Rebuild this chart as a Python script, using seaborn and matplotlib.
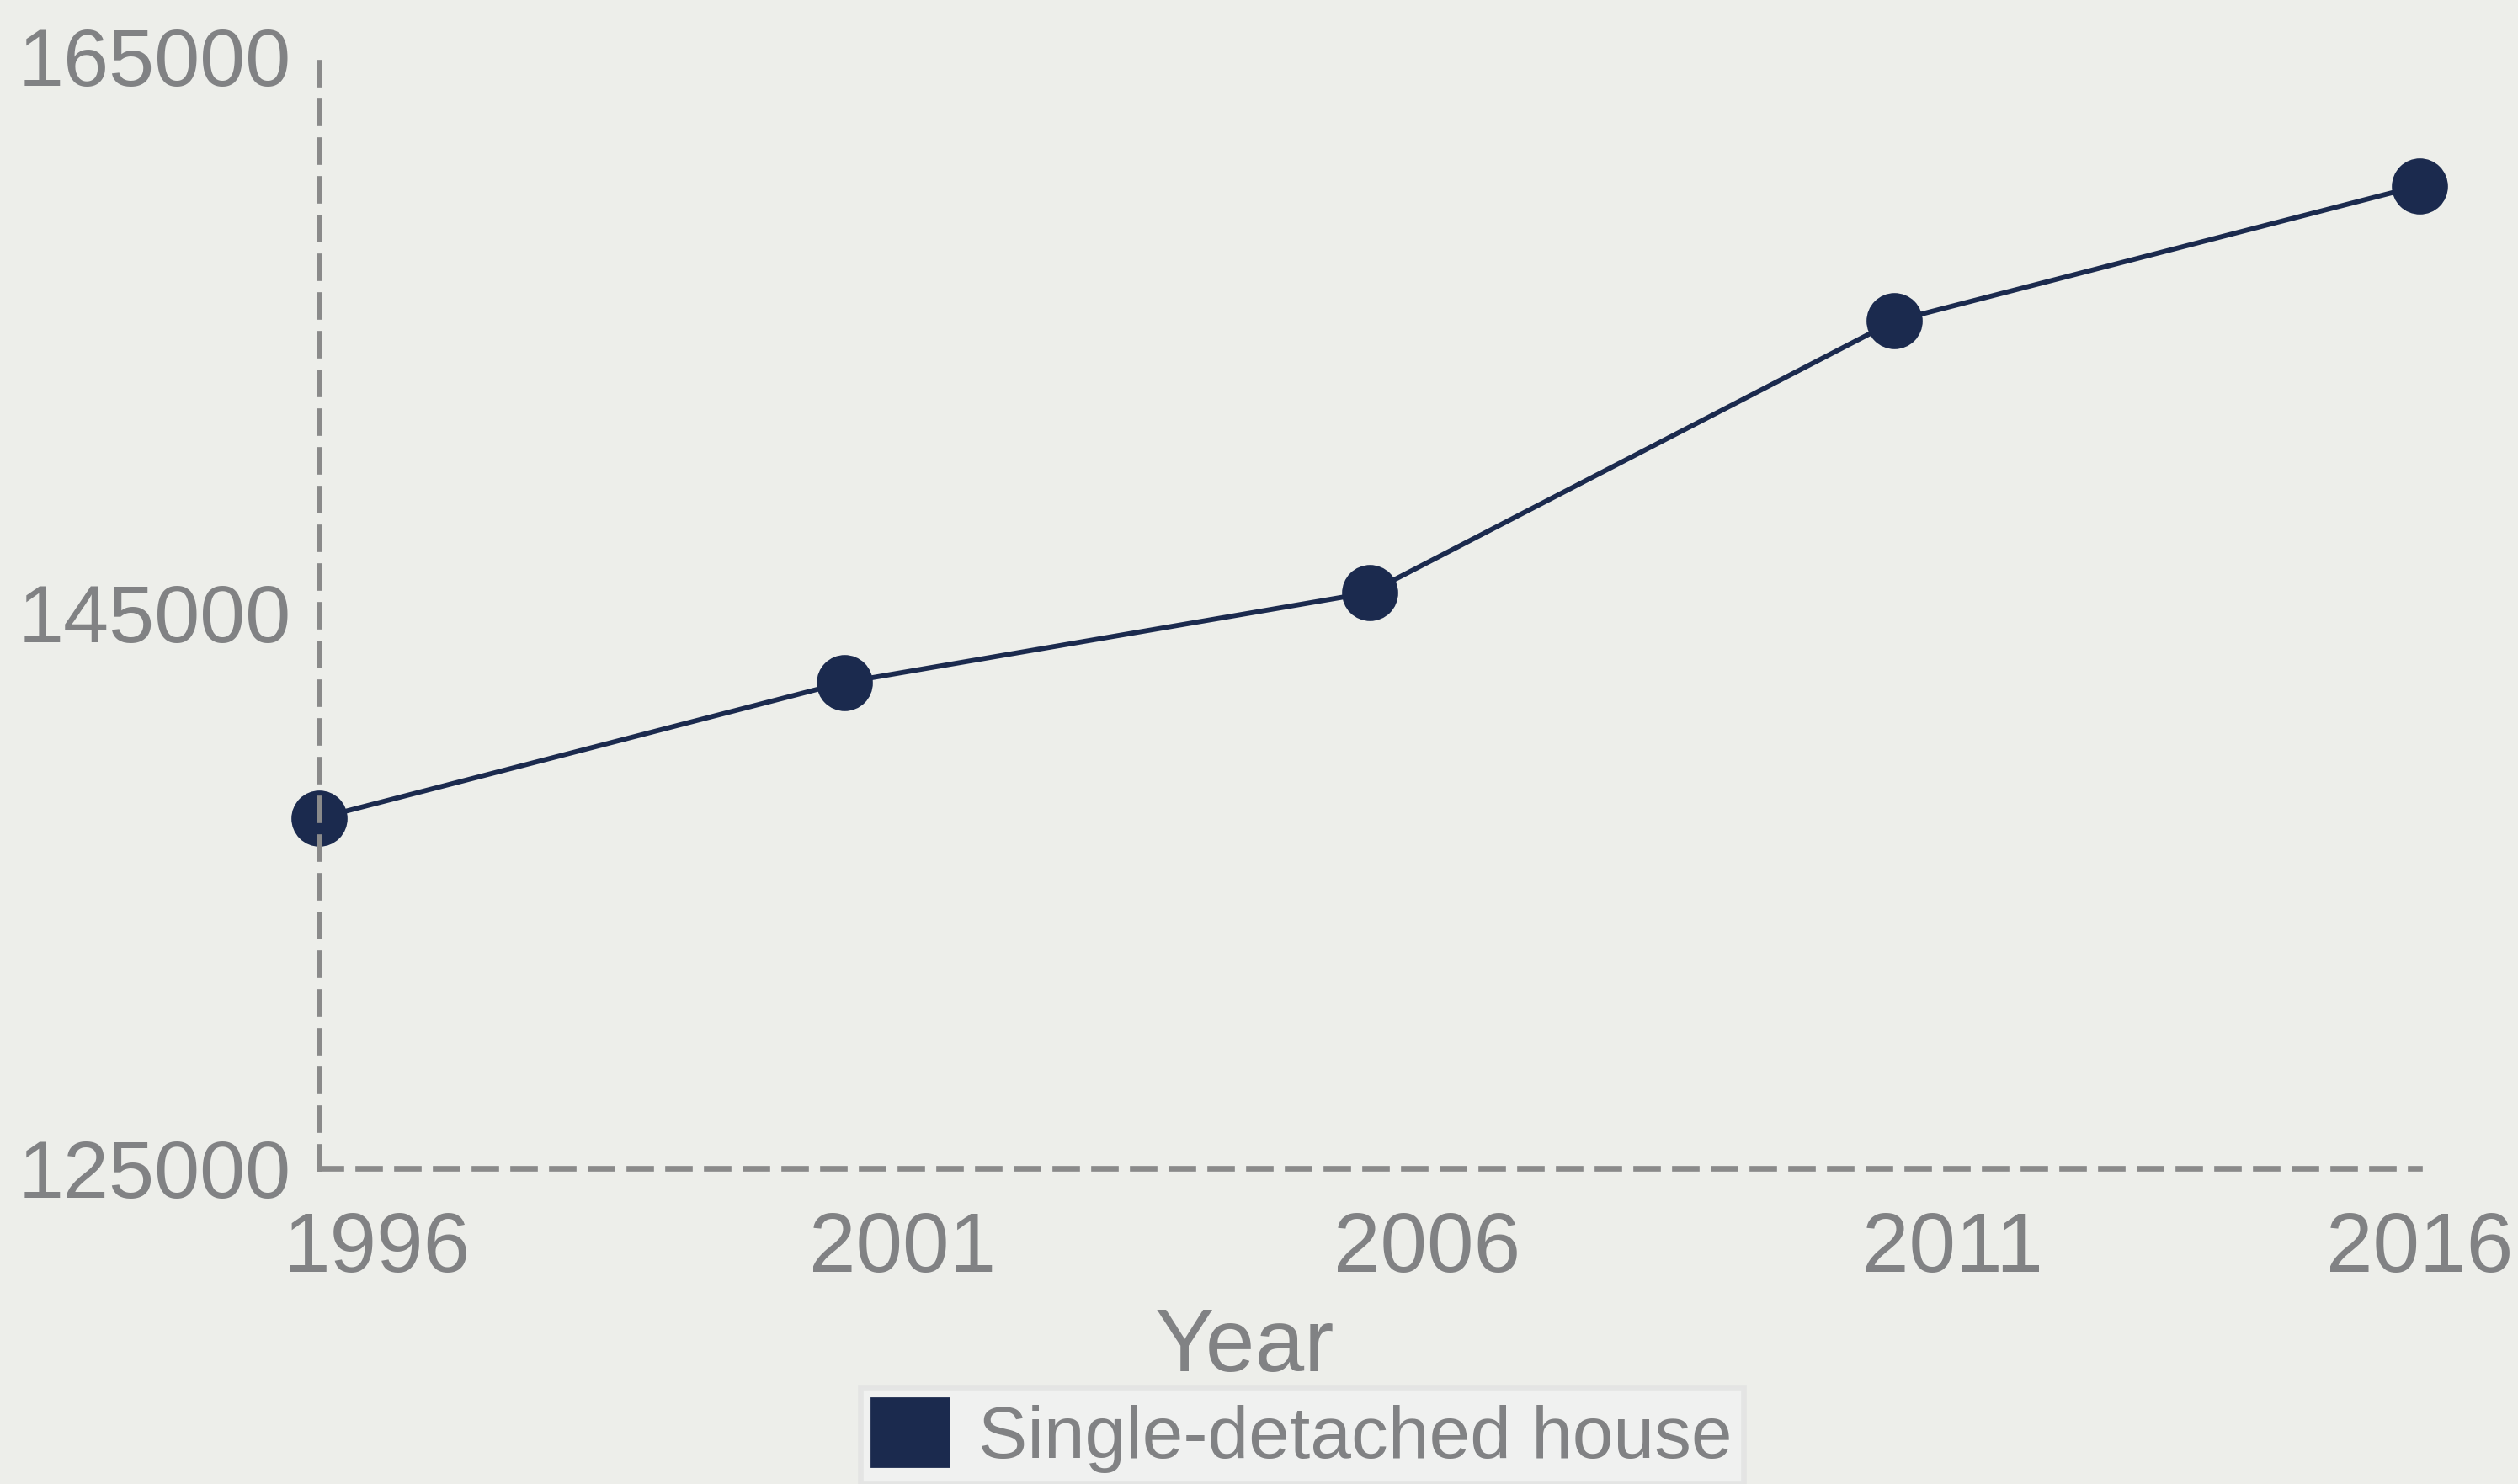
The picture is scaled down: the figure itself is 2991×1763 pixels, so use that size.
import pandas as pd
import numpy as np
import seaborn as sns
import matplotlib.pyplot as plt
from matplotlib.patches import Patch
from matplotlib.transforms import ScaledTranslation

# data
years = [1996, 2001, 2006, 2011, 2016]
houses = [137600, 142480, 145710, 155480, 160350]
series_name = "Single-detached house"
y_ticks = [125000, 145000, 165000]

bg = "#EDEEEA"
navy = "#1B2A4E"
grey_txt = "#818284"
grey_line = "#8A8A8A"

df = pd.DataFrame({"Year": years, "Count": houses})

sns.set_style("white", {"axes.facecolor": bg, "figure.facecolor": bg})
plt.rcParams['font.family'] = ['Liberation Sans', 'DejaVu Sans']

fig = plt.figure(figsize=(14.955, 8.815), dpi=200)
ax = fig.add_axes([0.1267, 0.2127, 0.9609 - 0.1267, 0.962 - 0.2127])

sns.lineplot(data=df, x="Year", y="Count", ax=ax, color=navy, linewidth=2.1,
             marker="o", markersize=24, markeredgewidth=0, clip_on=False,
             label=series_name, legend=False)

ax.set_xlim(1996, 2016)
ax.set_ylim(125000, 165000)
ax.set_xticks(years)
ax.set_yticks(y_ticks)
ax.set_xticklabels([str(y) for y in years])
ax.set_yticklabels([str(v) for v in y_ticks])
ax.tick_params(axis="x", length=0, labelsize=36, labelcolor=grey_txt, pad=18)
ax.tick_params(axis="y", length=0, labelsize=35, labelcolor=grey_txt, pad=12)

# x labels sit a bit to the right of their ticks in the original
for i, lab in enumerate(ax.get_xticklabels()):
    dx = 69 / 200 if i < len(years) - 1 else 0
    lab.set_transform(lab.get_transform() + ScaledTranslation(dx, 0, fig.dpi_scale_trans))

for side in ["top", "right"]:
    ax.spines[side].set_visible(False)
for side in ["left", "bottom"]:
    ax.spines[side].set_color(grey_line)
    ax.spines[side].set_linewidth(2.4)
    ax.spines[side].set_linestyle((0, (3.9, 3.0)))

ax.set_ylabel("")
ax.set_xlabel("Year", fontsize=38, color=grey_txt)
ax.xaxis.set_label_coords(0.4405, -0.124)

handles = [Patch(facecolor=navy, edgecolor=navy, label=series_name)]
leg = fig.legend(handles=handles, loc="upper center", bbox_to_anchor=(0.517, 0.0652),
                 fontsize=31.5, frameon=True, fancybox=False, handlelength=1.05,
                 handleheight=1.05, handletextpad=0.4, borderpad=0.15,
                 borderaxespad=0)
leg.get_frame().set_facecolor("#F2F2F2")
leg.get_frame().set_edgecolor("#E2E2E2")
leg.get_frame().set_linewidth(2.4)
for t in leg.get_texts():
    t.set_color(grey_txt)

fig.savefig("out.png", dpi=200, facecolor=bg)
